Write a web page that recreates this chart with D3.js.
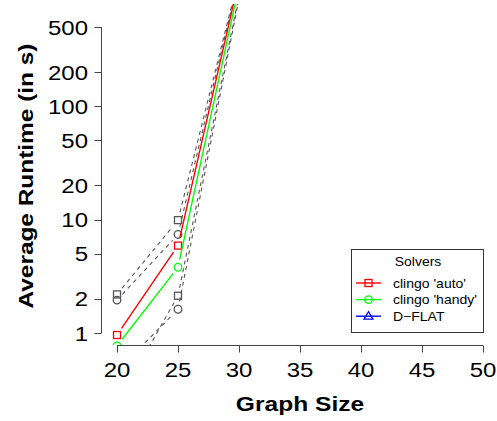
<!DOCTYPE html>
<html><head><meta charset="utf-8">
<script src="https://cdn.jsdelivr.net/npm/d3@7"></script>
<style>body{margin:0;background:#fff}svg{display:block}text{font-family:"Liberation Sans",Arial,Helvetica,sans-serif}</style>
</head><body>
<script>
const sizes = [20, 25, 30];
const autoMean = [0.96, 5.9, 1300];
const handyMean = [0.77, 3.8, 1150];
const autoMax = [2.19, 9.9, 1400];
const autoMin = [0.24, 2.13, 950];
const handyMax = [1.95, 7.4, 1380];
const handyMin = [0.46, 1.62, 890];
const dflatMean = [];
const xTicks = [20, 25, 30, 35, 40, 45, 50];
const yTicks = [1, 2, 5, 10, 20, 50, 100, 200, 500];
const legendLabels = ["clingo 'auto'", "clingo 'handy'", "D\u2212FLAT"];

const W = 497, H = 421, SX = 1.17;
const svg = d3.select("body").append("svg").attr("width", W).attr("height", H);
const x = d3.scaleLinear().domain([20, 50]).range([117, 483]);
const y = d3.scaleLog().domain([1, 500]).range([333, 27]);

svg.append("clipPath").attr("id", "clip").append("rect")
  .attr("x", 101).attr("y", 4).attr("width", W - 101).attr("height", 345 - 4);
const plot = svg.append("g").attr("clip-path", "url(#clip)");

function series(vals, color, dash, shape, sw) {
  const pts = vals.map((v, i) => [x(sizes[i]), y(v)]);
  const gap = 8;
  for (let i = 0; i < pts.length - 1; i++) {
    const [x0, y0] = pts[i], [x1, y1] = pts[i + 1];
    const d = Math.hypot(x1 - x0, y1 - y0);
    if (d <= 2 * gap) continue;
    const ux = (x1 - x0) / d, uy = (y1 - y0) / d;
    plot.append("line")
      .attr("x1", x0 + ux * gap).attr("y1", y0 + uy * gap)
      .attr("x2", x1 - ux * gap).attr("y2", y1 - uy * gap)
      .attr("stroke", color).attr("stroke-width", sw)
      .attr("stroke-dasharray", dash ? "4,4" : null);
  }
  pts.forEach(p => drawSym(plot, p[0], p[1], shape, color));
}
function drawSym(g, cx, cy, shape, color) {
  if (shape === "square") {
    g.append("rect").attr("x", cx - 3.5).attr("y", cy - 3.5).attr("width", 7).attr("height", 7)
      .attr("fill", "none").attr("stroke", color).attr("stroke-width", 1.3);
  } else if (shape === "circle") {
    g.append("circle").attr("cx", cx).attr("cy", cy).attr("r", 3.8)
      .attr("fill", "none").attr("stroke", color).attr("stroke-width", 1.3);
  } else {
    g.append("path").attr("d", `M${cx},${cy - 4.5}L${cx + 4.5},${cy + 3}L${cx - 4.5},${cy + 3}Z`)
      .attr("fill", "none").attr("stroke", color).attr("stroke-width", 1.3);
  }
}
const grey = "#555";
series(autoMax, grey, true, "square", 1.1);
series(autoMin, grey, true, "square", 1.1);
series(handyMax, grey, true, "circle", 1.1);
series(handyMin, grey, true, "circle", 1.1);
series(autoMean, "#ff0000", false, "square", 1.4);
series(handyMean, "#00ff00", false, "circle", 1.4);
if (dflatMean.length) series(dflatMean, "#0000ff", false, "triangle", 1.4);

// axes
const axCol = "#444";
const xa = svg.append("g");
xa.append("line").attr("x1", x(20)).attr("x2", x(50)).attr("y1", 345.5).attr("y2", 345.5).attr("stroke", axCol);
xTicks.forEach(t => {
  xa.append("line").attr("x1", Math.round(x(t)) + 0.5).attr("x2", Math.round(x(t)) + 0.5)
    .attr("y1", 345.5).attr("y2", 352.5).attr("stroke", axCol);
  xa.append("text").attr("transform", `translate(${x(t)},377) scale(${SX},1)`)
    .attr("text-anchor", "middle").attr("font-size", 20.5).text(t);
});
const ya = svg.append("g");
ya.append("line").attr("x1", 101.5).attr("x2", 101.5).attr("y1", y(1)).attr("y2", y(500)).attr("stroke", axCol);
yTicks.forEach(t => {
  ya.append("line").attr("x1", 94.5).attr("x2", 101.5)
    .attr("y1", Math.round(y(t)) + 0.5).attr("y2", Math.round(y(t)) + 0.5).attr("stroke", axCol);
  ya.append("text").attr("transform", `translate(88,${y(t) + 7.5}) scale(${SX},1)`)
    .attr("text-anchor", "end").attr("font-size", 20.5).text(t);
});
svg.append("text").attr("transform", `translate(300,411) scale(${SX},1)`)
  .attr("text-anchor", "middle").attr("font-size", 21).attr("font-weight", "bold").text("Graph Size");
svg.append("text").attr("transform", "translate(33,176) rotate(-90)")
  .attr("text-anchor", "middle").attr("font-size", 21).attr("font-weight", "bold")
  .attr("textLength", 265).attr("lengthAdjust", "spacingAndGlyphs").text("Average Runtime (in s)");

// legend
const lg = svg.append("g");
lg.append("rect").attr("x", 351.5).attr("y", 249.5).attr("width", 132).attr("height", 83)
  .attr("fill", "#fff").attr("stroke", "#333");
lg.append("text").attr("transform", `translate(418,266) scale(1.12,1)`).attr("text-anchor", "middle")
  .attr("font-size", 12.5).text("Solvers");
const lcols = ["#ff0000", "#00ff00", "#0000ff"], lshapes = ["square", "circle", "triangle"];
legendLabels.forEach((l, i) => {
  const cy = 283 + i * 16.6;
  lg.append("line").attr("x1", 356).attr("x2", 381).attr("y1", cy).attr("y2", cy)
    .attr("stroke", lcols[i]).attr("stroke-width", 1.4);
  drawSym(lg, 368.5, cy, lshapes[i], lcols[i]);
  lg.append("text").attr("transform", `translate(393,${cy + 4.5}) scale(1.12,1)`)
    .attr("font-size", 12.5).text(l);
});
</script>
</body></html>
